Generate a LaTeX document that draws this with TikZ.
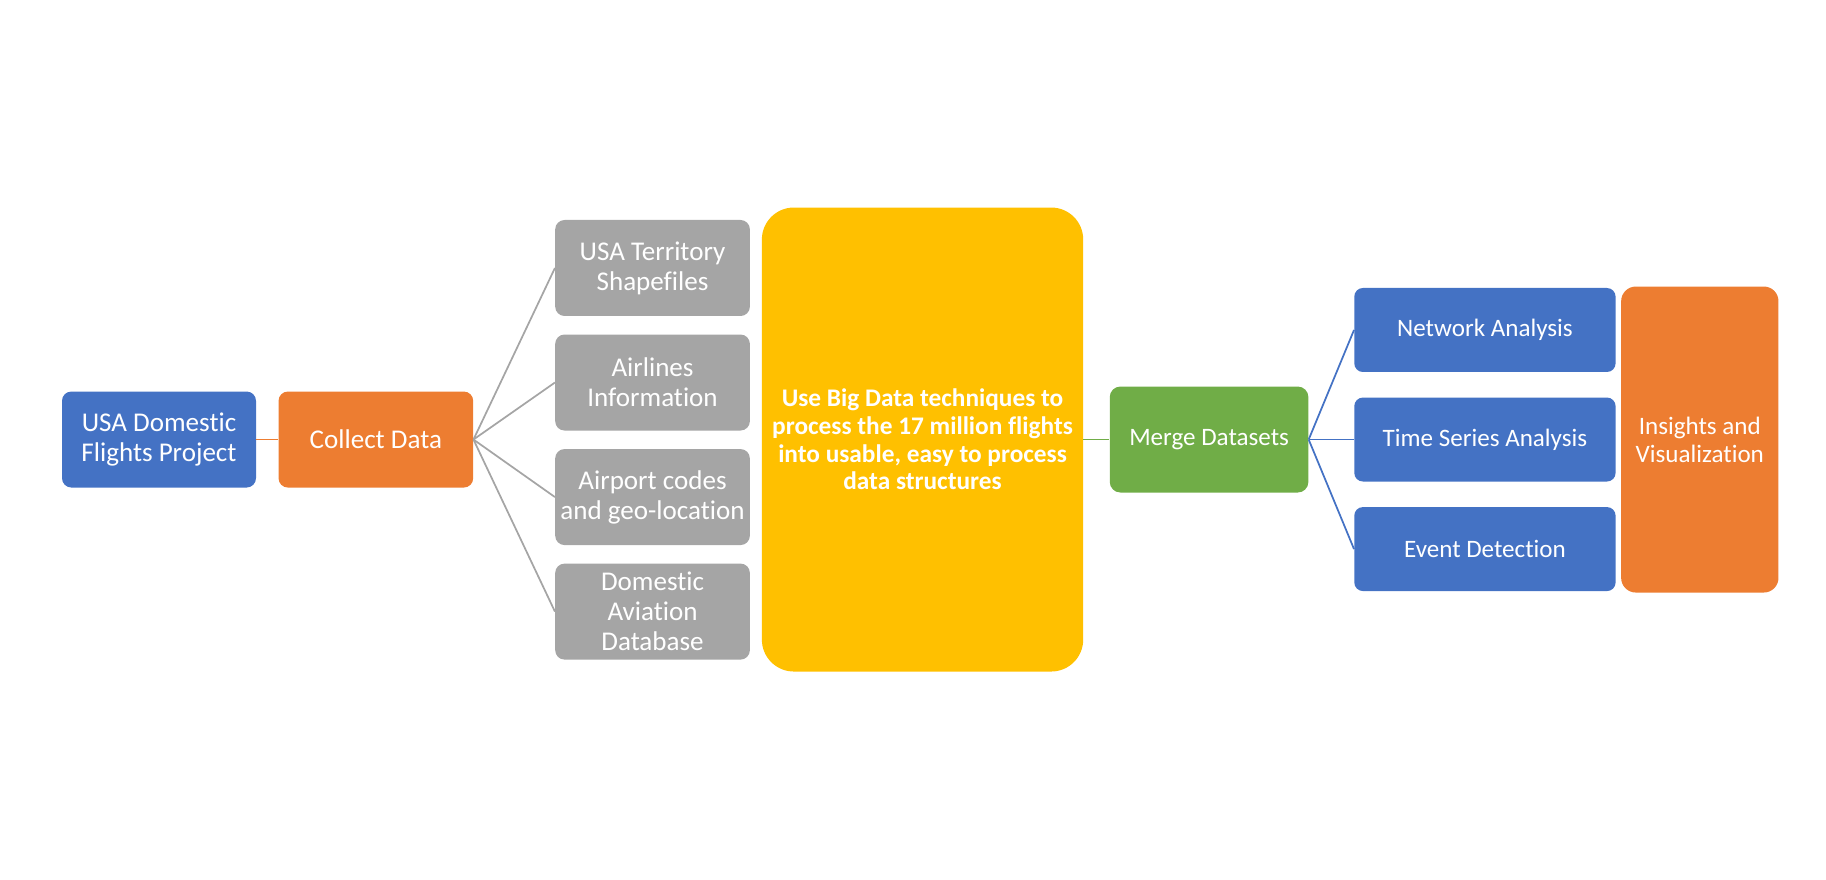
\documentclass[tikz,border=0pt]{standalone}
\usepackage{fontspec}
\setmainfont{Carlito}[Ligatures=NoCommon]
\usetikzlibrary{positioning}
\definecolor{flBlue}{HTML}{4472C4}
\definecolor{flOrange}{HTML}{ED7D31}
\definecolor{flGray}{HTML}{A5A5A5}
\definecolor{flGold}{HTML}{FFC000}
\definecolor{flGreen}{HTML}{70AD47}
\tikzset{
  boxBase/.style={rectangle, text=white, align=center, inner sep=2pt,
                  font=\fontsize{20.3}{22.5}\selectfont},
  boxBlue/.style={boxBase, fill=flBlue, rounded corners=6.5pt},
  boxOrange/.style={boxBase, fill=flOrange, rounded corners=7pt},
  boxGray/.style={boxBase, fill=flGray, rounded corners=7pt,
                  minimum width=146pt, minimum height=72pt},
  boxGold/.style={boxBase, fill=flGold, rounded corners=24pt,
                  font=\bfseries\fontsize{19}{20.8}\selectfont},
  boxGreen/.style={boxBase, fill=flGreen, rounded corners=8pt},
  lineGray/.style={draw=flGray, line width=1.3pt},
  lineOrange/.style={draw=flOrange, line width=1.3pt},
  lineGreen/.style={draw=flGreen, line width=1.3pt},
  lineBlue/.style={draw=flBlue, line width=1.3pt},
}
\begin{document}
\begin{tikzpicture}[node distance=13.5pt and 16.5pt]
    \useasboundingbox (0,0) rectangle (1369.5pt,659.25pt);
    % left part
    \node[boxBlue, minimum width=145.5pt, minimum height=72pt, rounded corners=7pt]
      (usa) at (119.25pt,329.6pt) {USA Domestic\\Flights Project};
    \node[boxOrange, right=of usa, minimum width=146pt, minimum height=72pt] (collect) {Collect Data};
    % data sources
    \node[boxGray] (shape) at (489.4pt,458.25pt) {USA Territory\\Shapefiles};
    \node[boxGray, below=of shape] (airline) {Airlines\\Information};
    \node[boxGray, below=of airline] (airport) {Airport codes\\and geo-location};
    \node[boxGray, below=of airport] (dbase) {Domestic\\Aviation\\Database};
    \foreach \src in {shape, airline, airport, dbase}
      \draw[lineGray] (collect.east) -- (\src.west);
    \draw[lineOrange] (usa) -- (collect);
    % processing
    \node[boxGold, minimum width=241pt, minimum height=348pt] (bigdata) at (691.9pt,329.6pt)
      {Use Big Data techniques to\\process the 17 million flights\\into usable, easy to process\\data structures};
    \node[boxGreen, right=19.5pt of bigdata, minimum width=149pt, minimum height=79.5pt,
          font=\fontsize{18.8}{21}\selectfont] (merge) {Merge Datasets};
    \draw[lineGreen] (bigdata) -- (merge);
    % analysis
    \tikzset{boxAna/.style={boxBlue, minimum width=196pt, minimum height=63pt,
                            font=\fontsize{18.8}{21}\selectfont}}
    \node[boxAna, right=34pt of merge] (tsa) {Time Series Analysis};
    \node[boxAna, above=18.75pt of tsa] (network) {Network Analysis};
    \node[boxAna, below=18.75pt of tsa] (event) {Event Detection};
    \foreach \ana in {network, tsa, event}
      \draw[lineBlue] (merge.east) -- (\ana.west);
    \node[boxOrange, right=3.75pt of tsa, minimum width=118pt, minimum height=229.5pt,
          rounded corners=11pt, font=\fontsize{18.8}{20.8}\selectfont] (insight) {Insights and\\Visualization};
  \end{tikzpicture}
\end{document}
